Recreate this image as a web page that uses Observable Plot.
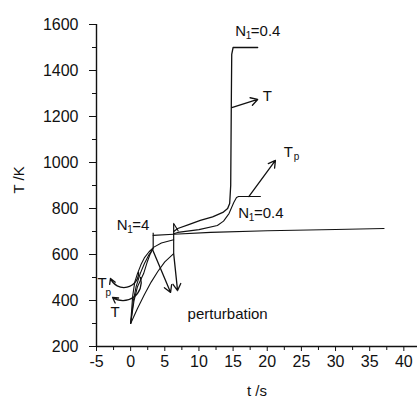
<!DOCTYPE html>
<html><head><meta charset="utf-8">
<script src="https://cdn.jsdelivr.net/npm/d3@7"></script>
<script src="https://cdn.jsdelivr.net/npm/@observablehq/plot@0.6"></script>
<style>body{margin:0;background:#fff} svg{display:block}</style>
</head><body><div id="chart"></div>
<script>
// tick values
const xTicks = [-5, 0, 5, 10, 15, 20, 25, 30, 35, 40];
const xMinor = [-2.5, 2.5, 7.5, 12.5, 17.5, 22.5, 27.5, 32.5, 37.5];
const yTicks = [200, 400, 600, 800, 1000, 1200, 1400, 1600];
const yMinor = [300, 500, 700, 900, 1100, 1300, 1500];

// curves [t (s), T (K)]
const riseT4  = [[0,300],[0.4,400],[0.8,460],[1.4,517],[2,560],[2.6,595],[3.2,622]];
const riseTp4 = [[0,300],[0.5,400],[1,460],[1.9,517],[2.4,565],[2.8,598],[3.2,622]];
const riseTp04 = [[0,300],[0.3,420],[0.6,480],[1,517],[1.5,555],[2,585],[2.7,612],[3.4,632],[4.5,650],[6.3,664]];
const riseT04 = [[0,300],[1,365],[2,425],[3,480],[4,527],[5,568],[6.3,604]];
const afterN4 = [[3.3,683],[6.3,688],[11.7,696],[20,703],[30,709],[37.1,713]];
const afterT04 = [[6.3,700],[6.9,713],[8.5,730],[10.2,748],[12,764],[13.5,783],[14.2,800],[14.5,822],[14.65,900],[14.7,1100],[14.75,1300],[14.8,1470],[15.0,1500],[18.6,1500]];
const afterTp04 = [[6.3,690],[6.9,696],[10,708],[12.7,726],[13.6,745],[14.4,778],[15.1,826],[15.5,848],[15.8,852],[19.0,852]];
const marker2 = [[6.3,735],[6.95,703]];

// perturbation bars
const bars = [{t: 3.3, lo: 620, hi: 692}, {t: 6.3, lo: 604, hi: 730}];

// arrows
const perturbArrows = [{t1: 3.2, T1: 622, t2: 5.85, T2: 435}, {t1: 6.3, T1: 604, t2: 6.87, T2: 443}];
const labelArrows = [{t1: 14.8, T1: 1239, t2: 18.6, T2: 1274}, {t1: 17.3, T1: 852, t2: 21.2, T2: 1009}];
const curvedArrow1 = [{t1: 1.16, T1: 522, t2: -2.95, T2: 496}];
const curvedArrow2 = [{t1: 1.45, T1: 500, t2: -2.65, T2: 413}];

// labels
const mainLabels = [
  {t: 15.3, T: 1572, text: "N"}, {t: 17.6, T: 1572, text: "=0.4"},
  {t: 15.75, T: 780, text: "N"}, {t: 18.05, T: 780, text: "=0.4"},
  {t: -2.05, T: 728, text: "N"}, {t: 0.25, T: 728, text: "=4"},
  {t: 19.33, T: 1289, text: "T"},
  {t: 22.41, T: 1044, text: "T"},
  {t: -4.85, T: 474, text: "T"},
  {t: -2.95, T: 350, text: "T"},
  {t: 8.34, T: 339, text: "perturbation"}
];
const subLabels = [
  {t: 16.85, T: 1550, text: "1"}, {t: 17.3, T: 760, text: "1"}, {t: -0.5, T: 708, text: "1"},
  {t: 23.87, T: 1026, text: "p"}, {t: -3.68, T: 435, text: "p"}
];

const font = "'Liberation Sans', Arial, Helvetica, sans-serif";
const line = (data, extra = {}) => Plot.line(data, {x: d => d[0], y: d => d[1], stroke: "#111", strokeWidth: 1.1, curve: "linear", ...extra});

const chart = Plot.plot({
  width: 419, height: 402,
  marginLeft: 96, marginRight: 2, marginTop: 24, marginBottom: 56,
  x: {domain: [-5, 42]},
  y: {domain: [200, 1600]},
  style: {fontFamily: font, fontSize: "16px", color: "#111", background: "#fff"},
  marks: [
    Plot.axisX(xTicks, {tickSize: 5, tickPadding: 4, label: null, tickFormat: d => String(d), fontSize: 16}),
    Plot.axisX(xMinor, {tickSize: 4, label: null, tickFormat: () => ""}),
    Plot.axisY(yTicks, {tickSize: 7, tickPadding: 11, label: null, tickFormat: d => String(d), fontSize: 16}),
    Plot.axisY(yMinor, {tickSize: 4, label: null, tickFormat: () => ""}),
    Plot.ruleX([-5], {stroke: "#111", strokeWidth: 1.4}),
    Plot.ruleY([200], {stroke: "#111", strokeWidth: 1.4}),
    line(riseT4), line(riseTp4), line(riseTp04), line(riseT04),
    line(afterN4), line(afterT04, {strokeWidth: 1.3}), line(afterTp04), line(marker2),
    Plot.ruleX(bars, {x: "t", y1: "lo", y2: "hi", stroke: "#111", strokeWidth: 1.2}),
    Plot.arrow(perturbArrows, {x1: "t1", y1: "T1", x2: "t2", y2: "T2", stroke: "#111", strokeWidth: 1.3, headLength: 9}),
    Plot.arrow(labelArrows, {x1: "t1", y1: "T1", x2: "t2", y2: "T2", stroke: "#111", strokeWidth: 1.3, headLength: 9}),
    Plot.arrow(curvedArrow1, {x1: "t1", y1: "T1", x2: "t2", y2: "T2", bend: 80, stroke: "#111", strokeWidth: 1.3, headLength: 7}),
    Plot.arrow(curvedArrow2, {x1: "t1", y1: "T1", x2: "t2", y2: "T2", bend: 70, stroke: "#111", strokeWidth: 1.3, headLength: 7}),
    Plot.text(mainLabels, {x: "t", y: "T", text: "text", textAnchor: "start", lineAnchor: "middle", fontSize: 15, fill: "#111"}),
    Plot.text(subLabels, {x: "t", y: "T", text: "text", textAnchor: "start", lineAnchor: "middle", fontSize: 10, fill: "#111"}),
    Plot.text(["T /K"], {frameAnchor: "left", dx: -77, dy: 8, rotate: -90, fontSize: 15, fill: "#111"}),
    Plot.text(["t /s"], {frameAnchor: "bottom", dy: 49, fontSize: 15, fill: "#111"})
  ]
});
document.getElementById("chart").appendChild(chart);
</script>
</body></html>
